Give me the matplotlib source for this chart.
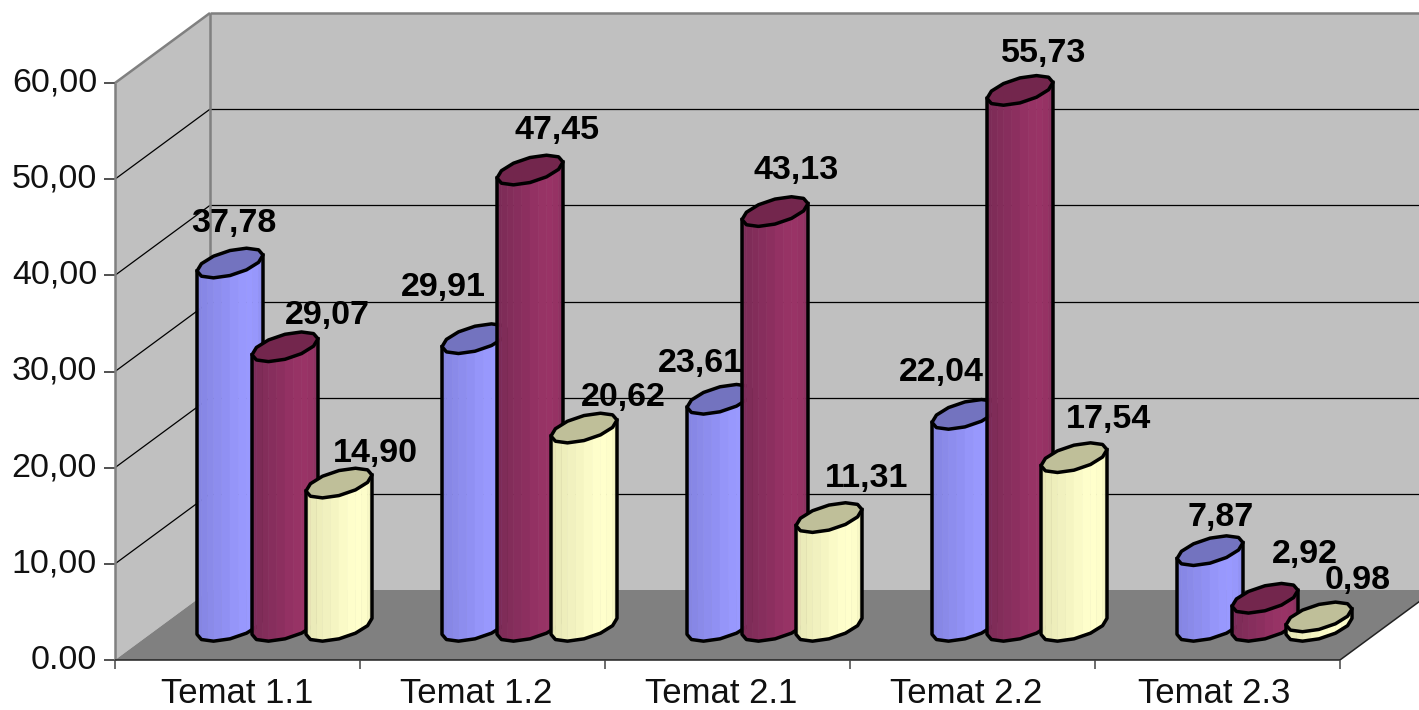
import numpy as np
import matplotlib
matplotlib.use("Agg")
import matplotlib.pyplot as plt
from matplotlib.patches import Polygon
from matplotlib.transforms import Bbox

categories = ["Temat 1.1", "Temat 1.2", "Temat 2.1", "Temat 2.2", "Temat 2.3"]
series_a = [37.78, 29.91, 23.61, 22.04, 7.87]
series_b = [29.07, 47.45, 43.13, 55.73, 2.92]
series_c = [14.90, 20.62, 11.31, 17.54, 0.98]
y_ticks = [0, 10, 20, 30, 40, 50, 60]

plt.rcParams["font.family"] = ["Liberation Sans", "DejaVu Sans"]
W, H = 1419, 710
L, R, T, B = 115, 1340, 83, 660
PX_X = (R - L) / 5
PX_Y = (B - T) / 60
fig = plt.figure(figsize=(W / 100, H / 100), dpi=100, facecolor="white")
ax = fig.add_axes([L / W, (H - B) / H, (R - L) / W, (B - T) / H])
ax.set_xlim(0, 5)
ax.set_ylim(0, 60)
ax.axis("off")

# 3-D frame: depth offset of the back wall in data units
DX, DY = 95 / PX_X, 70 / PX_Y
XEND = 5 + 1.2 * DX


def poly(pts, fc, ec="none", lw=0, z=1):
    ax.add_patch(Polygon(pts, closed=True, facecolor=fc, edgecolor=ec, linewidth=lw,
                         clip_on=False, zorder=z, joinstyle="round"))


def line(xs, ys, c="black", lw=0.9, z=2):
    ax.plot(xs, ys, color=c, lw=lw, clip_on=False, zorder=z, solid_capstyle="butt")


poly([(DX, DY), (DX, 60 + DY), (XEND, 60 + DY), (XEND, DY)], "#C0C0C0")
poly([(0, 0), (0, 60), (DX, 60 + DY), (DX, DY)], "#C0C0C0")
poly([(0, 0), (DX, DY), (XEND, DY), (5 + DX, DY), (5, 0)], "#808080")
poly([(5 + DX, DY), (XEND, DY), (XEND, DY - 1), (5 + 1.02 * DX, 0)], "white")
for v in y_ticks[1:-1]:
    line([DX, XEND], [v + DY, v + DY])
    line([0, DX], [v, v + DY])
for v in y_ticks:
    line([-11 / PX_X, 0], [v, v], c="#222222", lw=1.1)
line([0, 0], [0, 60], c="#808080", lw=1.8)
line([DX, DX], [DY, 60 + DY], c="#808080", lw=1.8)
line([0, DX], [60, 60 + DY], c="#808080", lw=1.8)
line([DX, XEND], [60 + DY, 60 + DY], c="#808080", lw=1.8)
line([0, 5], [0, 0], c="#222222", lw=1.1)
line([5, 5 + DX], [0, DY], c="#222222", lw=1.1)
for i in range(6):
    line([i, i], [0, -9 / PX_Y], c="#444444", lw=1.1)

# cylinder geometry
BASE = 3.5
A, K, E = 33 / PX_X, 8 / PX_Y, 12.5 / PX_Y
N = 6
SUB = 2
OFFSETS = [115 / PX_X, 170 / PX_X, 224 / PX_X]
STYLES = [
    dict(dark="#8383E0", mid="#9999FF", top="#7373BF"),
    dict(dark="#792A55", mid="#993366", top="#73264D"),
    dict(dark="#E6E6B4", mid="#FFFFCC", top="#BFBF99"),
]
BLEND = [0.0, 0.1, 0.2, 0.3, 0.45, 0.6, 0.8, 0.95, 1.0, 0.9, 0.7, 0.45]


def rgb(h):
    return np.array(matplotlib.colors.to_rgb(h))


def ring(cx, cy, ts):
    return np.column_stack([cx + A * np.cos(ts), cy + K * np.cos(ts) + E * np.sin(ts)])


def cylinder(x, value, style, z):
    top_y = BASE + value
    ts = np.linspace(np.pi, 2 * np.pi, N + 1)
    low, up = ring(x, BASE, ts), ring(x, top_y, ts)
    for j in range(N):
        for q in range(SUB):
            w = BLEND[j * SUB + q]
            col = rgb(style["dark"]) * (1 - w) + rgb(style["mid"]) * w
            f0, f1 = q / SUB, (q + 1) / SUB
            p = [low[j] + f0 * (low[j + 1] - low[j]), low[j] + f1 * (low[j + 1] - low[j]),
                 up[j] + f1 * (up[j + 1] - up[j]), up[j] + f0 * (up[j + 1] - up[j])]
            poly(p, col, ec=col, lw=0.4, z=z)
    outline = np.vstack([up[0][None], low, up[-1][None]])
    ax.plot(outline[:, 0], outline[:, 1], color="black", lw=2.5, clip_on=False,
            zorder=z + 0.1, solid_joinstyle="round")
    full = np.linspace(0, 2 * np.pi, 2 * N + 1)[:-1]
    poly(ring(x, top_y, full), style["top"], ec="black", lw=2.5, z=z + 0.2)


series = [series_a, series_b, series_c]
for i in range(len(categories)):
    for s in range(3):
        cylinder(i + OFFSETS[s], series[s][i], STYLES[s], 10 + i * 3 + s)

# label offsets from each cylinder's top centre, in pixels
LABEL_SHIFT = [
    [(4, 40), (-32, 51), (-20, 36), (-24, 42), (11, 33)],
    [(42, 31), (27, 40), (21, 41), (24, 37), (40, 44)],
    [(36, 30), (39, 31), (38, 39), (35, 38), (39, 36)],
]
for s in range(3):
    for i, v in enumerate(series[s]):
        ax.annotate(f"{v:.2f}".replace(".", ","), (i + OFFSETS[s], BASE + v),
                    xytext=LABEL_SHIFT[s][i], textcoords="offset pixels",
                    ha="center", va="center", fontsize=24.5, fontweight="bold",
                    color="black", annotation_clip=False, zorder=60)

for v in y_ticks:
    t = ax.text(-18 / PX_X, v, f"{v:.2f}".replace(".", ","), ha="right", va="center",
                fontsize=24.5, color="#111111", clip_on=False, zorder=60)
    if v == 0:
        t.set_clip_on(True)
        t.set_clip_box(Bbox([[0, H - 669], [W, H]]))
CATEGORY_SHIFT = [0, -6, -6, -6, -3]
for i, c in enumerate(categories):
    ax.text(i + 0.5 + CATEGORY_SHIFT[i] / PX_X, -43 / PX_Y, c, ha="center", va="baseline",
            fontsize=25, color="#111111", clip_on=False, zorder=60)

fig.savefig("out.png", dpi=100, facecolor="white")
